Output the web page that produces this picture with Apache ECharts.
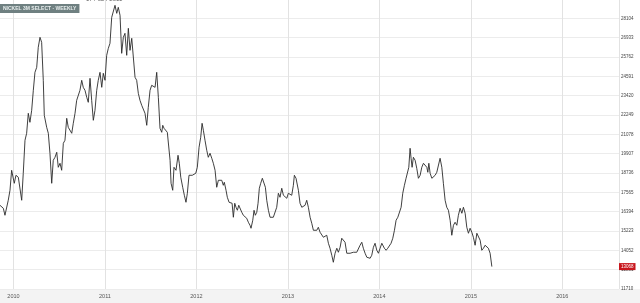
<!DOCTYPE html>
<html><head><meta charset="utf-8">
<script src="https://cdn.jsdelivr.net/npm/echarts@6/dist/echarts.min.js"></script>
<style>html,body{margin:0;padding:0;background:#fff}#c{width:640px;height:303px}</style>
</head><body><div id="c"></div>
<script>
// Weekly dates as decimal years
const years = [
2009.852,2009.889,2009.907,2009.926,2009.943,2009.962,2009.980,2009.998,2010.009,2010.027,
2010.053,2010.071,2010.090,2010.107,2010.126,2010.144,2010.162,2010.180,2010.199,2010.217,
2010.235,2010.254,2010.271,2010.290,2010.308,2010.326,2010.337,2010.363,2010.381,2010.399,
2010.418,2010.435,2010.454,2010.473,2010.490,2010.509,2010.527,2010.545,2010.563,2010.582,
2010.599,2010.618,2010.637,2010.654,2010.673,2010.691,2010.709,2010.727,2010.746,2010.763,
2010.782,2010.801,2010.818,2010.837,2010.855,2010.873,2010.891,2010.910,2010.927,2010.946,
2010.965,2010.982,2011.001,2011.019,2011.037,2011.055,2011.074,2011.091,2011.110,2011.129,
2011.146,2011.165,2011.183,2011.201,2011.219,2011.238,2011.256,2011.274,2011.293,2011.310,
2011.329,2011.347,2011.365,2011.383,2011.402,2011.420,2011.438,2011.457,2011.474,2011.493,
2011.511,2011.529,2011.548,2011.566,2011.584,2011.602,2011.621,2011.632,2011.646,2011.664,
2011.682,2011.701,2011.712,2011.723,2011.741,2011.755,2011.777,2011.799,2011.813,2011.829,
2011.850,2011.868,2011.886,2011.901,2011.919,2011.938,2011.955,2011.974,2011.993,2012.010,
2012.029,2012.047,2012.062,2012.076,2012.094,2012.113,2012.130,2012.149,2012.168,2012.185,
2012.204,2012.222,2012.240,2012.258,2012.277,2012.294,2012.305,2012.324,2012.338,2012.357,
2012.375,2012.390,2012.404,2012.419,2012.433,2012.448,2012.463,2012.477,2012.496,2012.513,
2012.532,2012.550,2012.568,2012.586,2012.597,2012.616,2012.630,2012.644,2012.660,2012.674,
2012.688,2012.703,2012.721,2012.740,2012.754,2012.769,2012.787,2012.805,2012.824,2012.841,
2012.860,2012.878,2012.896,2012.914,2012.933,2012.951,2012.969,2012.988,2013.005,2013.024,
2013.042,2013.060,2013.071,2013.089,2013.104,2013.115,2013.133,2013.152,2013.169,2013.188,
2013.206,2013.224,2013.243,2013.261,2013.279,2013.297,2013.316,2013.333,2013.352,2013.370,
2013.388,2013.407,2013.425,2013.443,2013.461,2013.480,2013.497,2013.516,2013.535,2013.552,
2013.571,2013.589,2013.607,2013.625,2013.644,2013.661,2013.680,2013.699,2013.716,2013.735,
2013.753,2013.771,2013.789,2013.808,2013.825,2013.844,2013.863,2013.880,2013.899,2013.917,
2013.935,2013.953,2013.972,2013.990,2014.008,2014.027,2014.044,2014.055,2014.074,2014.092,
2014.110,2014.128,2014.147,2014.165,2014.183,2014.202,2014.219,2014.238,2014.256,2014.274,
2014.292,2014.311,2014.322,2014.336,2014.347,2014.358,2014.372,2014.391,2014.409,2014.427,
2014.446,2014.464,2014.482,2014.500,2014.519,2014.530,2014.541,2014.555,2014.574,2014.591,
2014.610,2014.628,2014.646,2014.664,2014.683,2014.700,2014.719,2014.737,2014.755,2014.774,
2014.792,2014.810,2014.828,2014.847,2014.864,2014.883,2014.902,2014.919,2014.938,2014.956,
2014.974,2014.992,2015.011,2015.028,2015.047,2015.066,2015.083,2015.102,2015.120,2015.138,
2015.156,2015.175,2015.192,2015.211,2015.230
];
// Nickel 3M select price
const prices = [
16781,16600,16176,16115,17084,17689,18900,18779,18113,18598,
18477,18598,17084,18719,20717,21141,22352,21807,22533,23744,
24834,25137,26348,26954,26651,24350,22231,21504,21141,19930,
18113,19506,19688,19990,19082,19324,18900,20535,20717,22049,
21504,21625,21141,21746,22352,23139,23018,23744,24350,23926,
23744,23321,23018,24471,23139,21928,22533,23744,24350,24834,
23926,24774,24350,25864,26288,26590,28165,28286,28891,28407,
28770,28286,25985,26954,27196,25864,27499,26166,26893,26893,
24532,24350,23563,23139,22836,22715,22352,21625,22715,23744,
24047,24168,23926,24834,23321,21444,21201,21625,21444,21504,
21201,21322,19506,18113,17689,19082,18900,19809,19324,18477,
17871,17387,16963,17508,18598,18598,18598,18598,18719,19082,
20293,20899,21746,21322,20717,20111,19688,19930,19627,19324,
18900,17871,18295,18174,18295,17992,18174,17689,17266,16963,
17084,16902,16055,16902,16660,16478,16781,16660,16357,16176,
16055,15994,15752,15570,15389,15873,16478,16176,16357,16902,
17811,18113,18416,18356,17871,17084,16478,16055,16055,16055,
16055,16660,17508,17266,17811,17387,17508,17205,17508,17568,
17387,17992,18598,18416,18295,17689,16902,16660,16781,16781,
17084,16660,16055,15691,15267,15146,15267,15449,15146,15086,
14844,14965,14965,14480,14178,13754,13330,13875,14178,13935,
14238,14783,14844,14541,13875,13935,13875,13935,13935,13875,
13935,14056,14359,14541,14178,13875,13633,13572,13572,13754,
14238,14480,14056,13875,14178,14480,14541,14178,14056,14178,
14238,14480,14783,15267,15873,16055,15994,16660,17508,17992,
18416,18295,19082,20233,19627,19082,19688,19506,19022,18416,
18598,19082,19324,19385,19082,18779,19324,18719,18416,18477,
18598,18779,18900,19627,19082,18113,17084,16660,16478,15873,
14965,15570,15752,15570,16176,16600,16297,16660,16297,15449,
15086,15389,15146,14844,14359,15086,15146,14662,14056,14178,
14359,14238,14178,13875,13068
];
const lastPrice = 13068;
const yMin = 11710, yStep = 1171, yMax = 29275;
const xMin = 2009, xMax = 2016.62;
const titleText = 'NICKEL 3M SELECT - WEEKLY';

const chart = echarts.init(document.getElementById('c'), null, {renderer: 'canvas'});
chart.setOption({
  animation: false,
  backgroundColor: '#ffffff',
  title: {
    text: titleText, left: 0, top: 4,
    backgroundColor: '#6f8081', padding: [2, 3],
    textStyle: {color: '#e8eeee', fontSize: 5, fontWeight: 'bold', fontFamily: 'Liberation Sans'}
  },
  graphic: [
    {type: 'rect', left: 0, bottom: 0, z: -10, silent: true,
     shape: {width: 640, height: 14}, style: {fill: '#f3f3f3'}},
    {type: 'text', left: 86, top: -4, silent: true,
     style: {text: '17 / 02 / 2011', fontSize: 6, fill: '#666', fontFamily: 'Liberation Sans'}}
  ],
  grid: {left: -78, right: 21, top: -1, bottom: 14, containLabel: false, outerBoundsMode: 'none'},
  xAxis: {
    type: 'value', min: xMin, max: xMax, interval: 1,
    axisLine: {show: false}, axisTick: {show: false},
    splitLine: {show: true, lineStyle: {color: '#e2e2e2', width: 1}},
    axisLabel: {
      show: true, showMaxLabel: false, margin: 4,
      fontSize: 5.5, color: '#555', fontFamily: 'Liberation Sans',
      formatter: v => Number.isInteger(v) ? String(v) : ''
    }
  },
  yAxis: {
    type: 'value', position: 'right', min: yMin, max: yMax, interval: yStep,
    axisLine: {show: false}, axisTick: {show: false},
    splitLine: {show: true, lineStyle: {color: '#ececec', width: 1}},
    axisLabel: {
      show: true, showMaxLabel: false, margin: 2,
      fontSize: 4.5, color: '#444', fontFamily: 'Liberation Sans',
      formatter: v => String(v)
    }
  },
  series: [{
    type: 'line',
    data: years.map((y, i) => [y, prices[i]]),
    showSymbol: false, symbol: 'none',
    lineStyle: {color: '#2a2a2a', width: 0.9},
    markLine: {
      silent: true, symbol: ['none', 'none'], animation: false,
      lineStyle: {color: 'rgba(0,0,0,0)', width: 0, type: 'solid'},
      data: [[{xAxis: xMin, yAxis: lastPrice}, {xAxis: xMax, yAxis: lastPrice}]],
      label: {
        show: true, position: 'end', distance: 0,
        formatter: String(lastPrice),
        backgroundColor: '#c8161d', color: '#ffffff',
        fontSize: 4.5, padding: [1, 2], fontFamily: 'Liberation Sans'
      }
    }
  }]
});
</script>
</body></html>
